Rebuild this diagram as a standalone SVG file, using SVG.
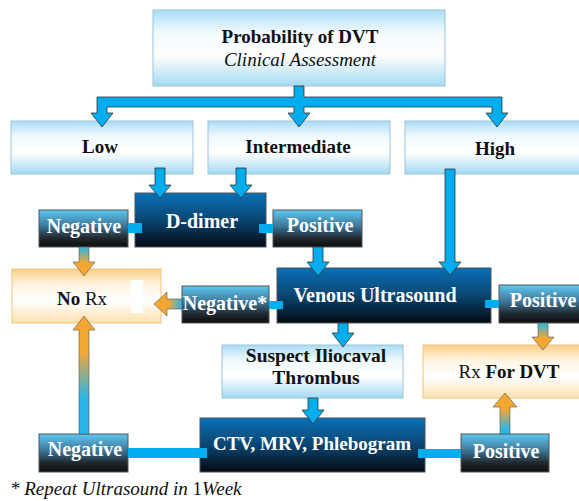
<svg xmlns="http://www.w3.org/2000/svg" width="579" height="501" viewBox="0 0 579 501">
<defs>
<linearGradient id="gLight" x1="0" y1="0" x2="0" y2="1">
<stop offset="0" stop-color="#a9ddf5"/><stop offset="0.3" stop-color="#f2fafe"/><stop offset="0.6" stop-color="#ffffff"/><stop offset="1" stop-color="#a3d9f1"/>
</linearGradient>
<linearGradient id="gOrange" x1="0" y1="0" x2="0" y2="1">
<stop offset="0" stop-color="#fbcf86"/><stop offset="0.3" stop-color="#fff5e4"/><stop offset="0.6" stop-color="#ffffff"/><stop offset="1" stop-color="#fde0ac"/>
</linearGradient>
<linearGradient id="gDark" x1="0" y1="0" x2="0" y2="1">
<stop offset="0" stop-color="#0a70b6"/><stop offset="0.5" stop-color="#0a4672"/><stop offset="1" stop-color="#050a12"/>
</linearGradient>
<linearGradient id="gSmall" x1="0" y1="0" x2="0" y2="1">
<stop offset="0" stop-color="#5ec8f2"/><stop offset="0.45" stop-color="#3d7394"/><stop offset="0.75" stop-color="#222a30"/><stop offset="1" stop-color="#0c0c0c"/>
</linearGradient>
<linearGradient id="gDown" x1="0" y1="0" x2="0" y2="1">
<stop offset="0" stop-color="#29b5e8"/><stop offset="0.55" stop-color="#f5a733"/><stop offset="1" stop-color="#f5a733"/>
</linearGradient>
<linearGradient id="gUp" x1="0" y1="0" x2="0" y2="1">
<stop offset="0" stop-color="#f5a733"/><stop offset="0.3" stop-color="#f5a733"/><stop offset="0.7" stop-color="#29b5e8"/><stop offset="1" stop-color="#29b5e8"/>
</linearGradient>
<linearGradient id="gUp2" x1="0" y1="0" x2="0" y2="1">
<stop offset="0" stop-color="#f5a733"/><stop offset="0.4" stop-color="#f5a733"/><stop offset="0.9" stop-color="#29b5e8"/><stop offset="1" stop-color="#29b5e8"/>
</linearGradient>
<linearGradient id="gLeft" x1="0" y1="0" x2="1" y2="0">
<stop offset="0" stop-color="#f5a733"/><stop offset="0.5" stop-color="#f5a733"/><stop offset="1" stop-color="#29b5e8"/>
</linearGradient>
</defs>
<style>
.light{fill:url(#gLight);stroke:#9cc4da;stroke-width:1}
.orange{fill:url(#gOrange);stroke:#f2c37c;stroke-width:1}
.dark{fill:url(#gDark);stroke:#4a5560;stroke-width:1}
.small{fill:url(#gSmall);stroke:#555;stroke-width:1}
.arrow{fill:#00aeef;stroke:#333;stroke-width:0.8;stroke-linejoin:miter}
.oarrow{stroke:#555;stroke-width:0.6}
.conn{fill:#00aeef}
text{font-family:"Liberation Serif","DejaVu Serif",serif;text-anchor:middle}
.bk{fill:#111;font-weight:bold}
.wt{fill:#fff;font-weight:bold}
</style>
<rect width="579" height="501" fill="#fff"/>

<g id="node-probability">
<rect class="light" x="153" y="10" width="292" height="76"/>
<text class="bk" x="300" y="43" font-size="19">Probability of DVT</text>
<text x="300" y="66" font-size="19" font-style="italic" fill="#111">Clinical Assessment</text>
</g>
<g id="node-low">
<rect class="light" x="11" y="121" width="182" height="53"/>
<text class="bk" x="100" y="153" font-size="19">Low</text>
</g>
<g id="node-intermediate">
<rect class="light" x="208" y="121" width="182" height="53"/>
<text class="bk" x="298" y="153" font-size="19">Intermediate</text>
</g>
<g id="node-high">
<rect class="light" x="405" y="121" width="180" height="53"/>
<text class="bk" x="495" y="155" font-size="19">High</text>
</g>
<g id="node-ddimer">
<rect class="dark" x="135" y="193" width="131" height="54"/>
<text class="wt" x="202" y="228" font-size="20">D-dimer</text>
</g>
<g id="node-dd-negative">
<rect class="small" x="39" y="210" width="89" height="37"/>
<text class="wt" x="84" y="233" font-size="20">Negative</text>
</g>
<g id="node-dd-positive">
<rect class="small" x="273" y="210" width="89" height="37"/>
<text class="wt" x="320" y="232" font-size="20">Positive</text>
</g>
<g id="node-norx">
<rect class="orange" x="12" y="269" width="149" height="54"/>
<rect x="131" y="280" width="12" height="33" fill="#fff"/>
<text x="82" y="305" font-size="19" fill="#111"><tspan font-weight="bold">No</tspan> Rx</text>
</g>
<g id="node-venous">
<rect class="dark" x="277" y="268" width="214" height="55"/>
<text class="wt" x="375" y="302" font-size="20">Venous Ultrasound</text>
</g>
<g id="node-vu-negative">
<rect class="small" x="182" y="286" width="87" height="37"/>
<text class="wt" x="225" y="310" font-size="20">Negative*</text>
</g>
<g id="node-vu-positive">
<rect class="small" x="499" y="285" width="86" height="38"/>
<text class="wt" x="543" y="307" font-size="20">Positive</text>
</g>
<g id="node-suspect">
<rect class="light" x="222" y="345" width="181" height="53"/>
<text class="bk" x="316" y="362" font-size="19.5">Suspect Iliocaval</text>
<text class="bk" x="316" y="384" font-size="19.5">Thrombus</text>
</g>
<g id="node-rxdvt">
<rect class="orange" x="423" y="345" width="162" height="53"/>
<text x="509" y="378" font-size="19" fill="#111">Rx <tspan font-weight="bold">For DVT</tspan></text>
</g>
<g id="node-ctv">
<rect class="dark" x="200" y="418" width="225" height="54"/>
<text class="wt" x="312" y="450" font-size="19">CTV, MRV, Phlebogram</text>
</g>
<g id="node-ctv-negative">
<rect class="small" x="39" y="434" width="89" height="38"/>
<text class="wt" x="85" y="456" font-size="20">Negative</text>
</g>
<g id="node-ctv-positive">
<rect class="small" x="461" y="434" width="88" height="38"/>
<text class="wt" x="506" y="458" font-size="20">Positive</text>
</g>

<g id="connectors">
<path class="arrow" d="M294,86 L304,86 L304,97 L502,97 L502,113 L508,113 L497,127 L486,113 L492,113 L492,107 L304,107 L304,113 L310,113 L299,127 L288,113 L294,113 L294,107 L107,107 L107,113 L113,113 L102,127 L91,113 L97,113 L97,97 L294,97 Z"/>
<path class="arrow" d="M155,168 L165,168 L165,185 L171,185 L160,198 L149,185 L155,185 Z"/>
<path class="arrow" d="M236,168 L246,168 L246,185 L252,185 L241,198 L230,185 L236,185 Z"/>
<path class="arrow" d="M445,169 L455,169 L455,262 L461,262 L450,275 L439,262 L445,262 Z"/>
<path class="arrow" d="M313,247 L323,247 L323,262 L329,262 L318,276 L307,262 L313,262 Z"/>
<path class="arrow" d="M338,323 L348,323 L348,333 L354,333 L343,347 L332,333 L338,333 Z"/>
<path class="arrow" d="M308,398 L318,398 L318,410 L324,410 L313,424 L302,410 L308,410 Z"/>
<path class="oarrow" fill="url(#gDown)" d="M79,247 L89,247 L89,262 L95,262 L84,276 L73,262 L79,262 Z"/>
<path class="oarrow" fill="url(#gDown)" d="M538,323 L548,323 L548,337 L554,337 L543,350 L532,337 L538,337 Z"/>
<path class="oarrow" fill="url(#gLeft)" d="M182,299 L182,309 L167,309 L167,316 L154,304 L167,292 L167,299 Z"/>
<path class="oarrow" fill="url(#gUp)" d="M79,434 L89,434 L89,330 L95,330 L84,316 L73,330 L79,330 Z"/>
<path class="oarrow" fill="url(#gUp2)" d="M500,434 L510,434 L510,407 L517,407 L505,393 L493,407 L500,407 Z"/>
<rect class="conn" x="128" y="223" width="14" height="10"/>
<rect class="conn" x="259" y="224" width="14" height="9"/>
<rect class="conn" x="269" y="301" width="14" height="8"/>
<rect class="conn" x="485" y="300" width="14" height="8"/>
<rect class="conn" x="128" y="448" width="79" height="10"/>
<rect class="conn" x="418" y="449" width="43" height="9"/>
</g>

<text x="10" y="495" font-size="19" font-style="italic" fill="#111" style="text-anchor:start">* Repeat Ultrasound in <tspan font-style="normal">1</tspan>Week</text>
</svg>
